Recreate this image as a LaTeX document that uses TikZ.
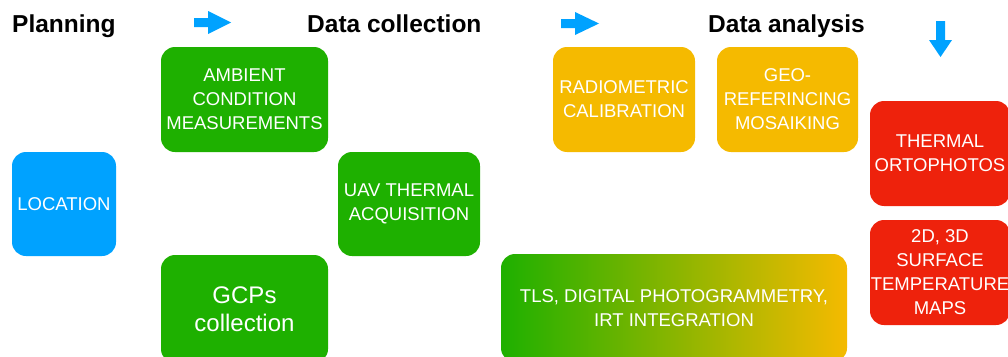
\documentclass[tikz,border=0pt]{standalone}
\usepackage{fontspec}
\setmainfont{Liberation Sans}
\definecolor{cgreen}{RGB}{30,176,0}
\definecolor{cblue}{RGB}{0,162,255}
\definecolor{corange}{RGB}{245,186,0}
\definecolor{cred}{RGB}{238,34,12}
\tikzset{
  box/.style={rounded corners=14pt, text=white, align=center, inner sep=0pt,
    font=\fontsize{18.5}{24}\selectfont},
  head/.style={anchor=base west, inner sep=0pt, font=\fontsize{24.5}{28}\selectfont\bfseries},
  arr/.style={fill=cblue}
}
\begin{document}
\begin{tikzpicture}[x=1pt,y=-1pt]
\useasboundingbox (0,0) rectangle (1008,356);
\clip (0,0) rectangle (1008,356);
% headings
\node[head] (h1) at (12,32) {Planning};
\node[head] (h2) at (307,32) {Data collection};
\node[head] (h3) at (708,32) {Data analysis};
% arrows
\fill[arr] (194,18) -- (208,18) -- (208,11) -- (231,22.5) -- (208,34) -- (208,27) -- (194,27) -- cycle;
\fill[arr] (561,19) -- (575,19) -- (575,12) -- (599,23.5) -- (575,35) -- (575,28) -- (561,28) -- cycle;
\fill[arr] (936,21) -- (945,21) -- (945,40) -- (952,40) -- (940.5,57) -- (929,40) -- (936,40) -- cycle;
% boxes
\node[box, fill=cblue, minimum width=104pt, minimum height=104pt] (loc) at (64,204) {LOCATION};
\node[box, fill=cgreen, minimum width=167pt, minimum height=105pt] (amb) at (244.5,99.5) {AMBIENT\\CONDITION\\MEASUREMENTS};
\node[box, fill=cgreen, minimum width=142pt, minimum height=104pt] (uav) at (409,204) {UAV THERMAL\\ACQUISITION};
\node[box, fill=cgreen, minimum width=167pt, minimum height=108pt, font=\fontsize{24}{28}\selectfont] (gcp) at (244.5,309) {GCPs\\collection};
\node[box, fill=corange, minimum width=142pt, minimum height=105pt] (rad) at (624,99.5) {RADIOMETRIC\\CALIBRATION};
\node[box, fill=corange, minimum width=141pt, minimum height=105pt] (geo) at (787.5,99.5) {GEO-\\REFERINCING\\MOSAIKING};
\node[box, fill=cred, minimum width=140pt, minimum height=105pt] (orto) at (940,153.5) {THERMAL\\ORTOPHOTOS};
\node[box, fill=cred, minimum width=140pt, minimum height=105pt] (maps) at (940,272.5) {2D, 3D\\SURFACE\\TEMPERATURE\\MAPS};
\node[box, left color=cgreen, right color=corange, minimum width=346pt, minimum height=108pt] (tls) at (674,308) {TLS, DIGITAL PHOTOGRAMMETRY,\\IRT INTEGRATION};
\end{tikzpicture}
\end{document}
